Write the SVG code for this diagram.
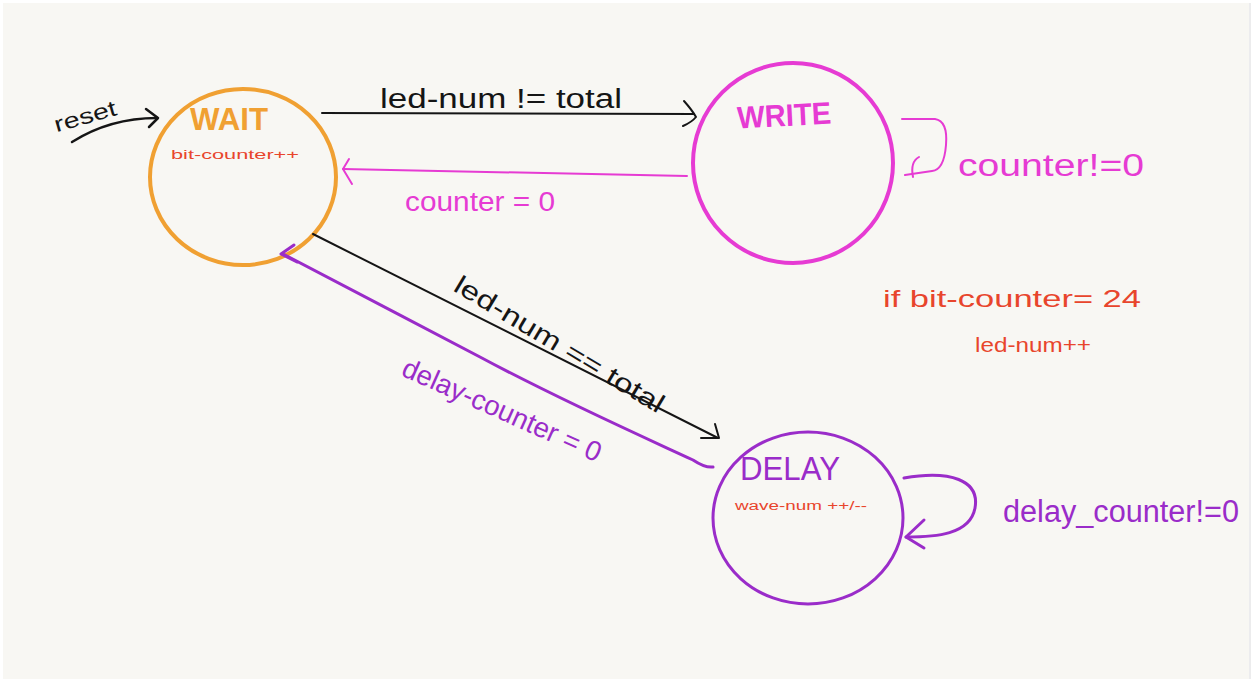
<svg xmlns="http://www.w3.org/2000/svg" width="1253" height="682" viewBox="0 0 1253 682">
  <style>
    .hand { font-family: "Liberation Sans", "DejaVu Sans", sans-serif; }
    .node { fill: none; }
    .wire { fill: none; stroke-linecap: round; stroke-linejoin: round; }
    .black { stroke: #151515; }
    .orange { stroke: #f0a032; }
    .pink { stroke: #e63bd3; }
    .purple { stroke: #9a2cc9; }
    .t-black { fill: #151515; }
    .t-orange { fill: #f0a032; }
    .t-pink { fill: #e63bd3; }
    .t-purple { fill: #9a2cc9; }
    .t-red { fill: #e8452c; }
  </style>

  <!-- paper -->
  <rect x="0" y="0" width="1253" height="682" fill="#ffffff"/>
  <rect x="3" y="3" width="1246" height="676" fill="#f8f7f3"/>
  <line x1="1250" y1="3" x2="1250" y2="679" stroke="#d9d9dc" stroke-width="1"/>

  <!-- states -->
  <g id="node-wait">
    <ellipse class="node orange" cx="243" cy="177" rx="93" ry="88" stroke-width="4"/>
    <text class="hand t-orange" x="190" y="130" font-size="31" font-weight="bold" textLength="78" lengthAdjust="spacingAndGlyphs">WAIT</text>
    <text class="hand t-red" x="171" y="159" font-size="13" textLength="128" lengthAdjust="spacingAndGlyphs">bit-counter++</text>
  </g>

  <g id="node-write">
    <circle class="node pink" cx="793" cy="163" r="100" stroke-width="4"/>
    <text class="hand t-pink" x="737" y="126" font-size="31" font-weight="bold" textLength="94" lengthAdjust="spacingAndGlyphs" transform="rotate(-3 784 112)">WRITE</text>
  </g>

  <g id="node-delay">
    <ellipse class="node purple" cx="808" cy="518" rx="95" ry="86" stroke-width="3"/>
    <text class="hand t-purple" x="740" y="480" font-size="34" textLength="100" lengthAdjust="spacingAndGlyphs">DELAY</text>
    <text class="hand t-red" x="735" y="510" font-size="12" textLength="132" lengthAdjust="spacingAndGlyphs">wave-num ++/--</text>
  </g>

  <!-- transitions -->
  <g id="connectors">
    <!-- reset -->
    <path class="wire black" stroke-width="2.5" d="M72 142 Q110 118 157 118"/>
    <path class="wire black" stroke-width="2.5" d="M146 109 L158 118 L149 127"/>

    <!-- WAIT to WRITE -->
    <path class="wire black" stroke-width="2" d="M322 113 L694 114"/>
    <path class="wire black" stroke-width="2" d="M684 101 Q692 110 696 117 Q692 122 683 126"/>

    <!-- WRITE to WAIT -->
    <path class="wire pink" stroke-width="2" d="M687 176 L343 169"/>
    <path class="wire pink" stroke-width="2" d="M349 159 L343 169 L352 184"/>

    <!-- WRITE self loop -->
    <path class="wire pink" stroke-width="2" d="M902 119 L935 119 Q948 121 946 145 Q944 170 932 171 L905 175"/>
    <path class="wire pink" stroke-width="2" d="M919 157 Q910 162 913 177"/>

    <!-- WAIT to DELAY -->
    <path class="wire black" stroke-width="2" d="M313 234 L718 438"/>
    <path class="wire black" stroke-width="2" d="M715 424 L719 438 L701 438"/>

    <!-- DELAY to WAIT -->
    <path class="wire purple" stroke-width="3" d="M713 467 Q705 468 693 460 C650 440 560 400 480 357 C420 326 330 278 283 254"/>
    <path class="wire purple" stroke-width="3" d="M294 245 L281 254 L297 262"/>

    <!-- DELAY self loop -->
    <path class="wire purple" stroke-width="3" d="M904 478 C950 470 980 480 975 508 C970 535 935 537 906 537"/>
    <path class="wire purple" stroke-width="3" d="M924 520 L906 537 L924 548"/>
  </g>

  <!-- transition labels and notes -->
  <g id="labels">
    <text class="hand t-black" x="52" y="124" font-size="22" textLength="64" lengthAdjust="spacingAndGlyphs" transform="rotate(-16 84 112)">reset</text>
    <text class="hand t-black" x="380" y="108" font-size="27" textLength="242" lengthAdjust="spacingAndGlyphs">led-num != total</text>
    <text class="hand t-pink" x="405" y="211" font-size="27" textLength="150" lengthAdjust="spacingAndGlyphs">counter = 0</text>
    <text class="hand t-pink" x="958" y="176" font-size="31" textLength="186" lengthAdjust="spacingAndGlyphs">counter!=0</text>
    <text class="hand t-red" x="883" y="307" font-size="24" textLength="258" lengthAdjust="spacingAndGlyphs">if  bit-counter= 24</text>
    <text class="hand t-red" x="975" y="352" font-size="21" textLength="116" lengthAdjust="spacingAndGlyphs">led-num++</text>
    <text class="hand t-black" x="452" y="290" font-size="26" textLength="240" lengthAdjust="spacingAndGlyphs" transform="rotate(31 452 290)">led-num == total</text>
    <text class="hand t-purple" x="400" y="375" font-size="28" textLength="215" lengthAdjust="spacingAndGlyphs" transform="rotate(24 400 375)">delay-counter = 0</text>
    <text class="hand t-purple" x="1003" y="522" font-size="31" textLength="236" lengthAdjust="spacingAndGlyphs">delay_counter!=0</text>
  </g>
</svg>
